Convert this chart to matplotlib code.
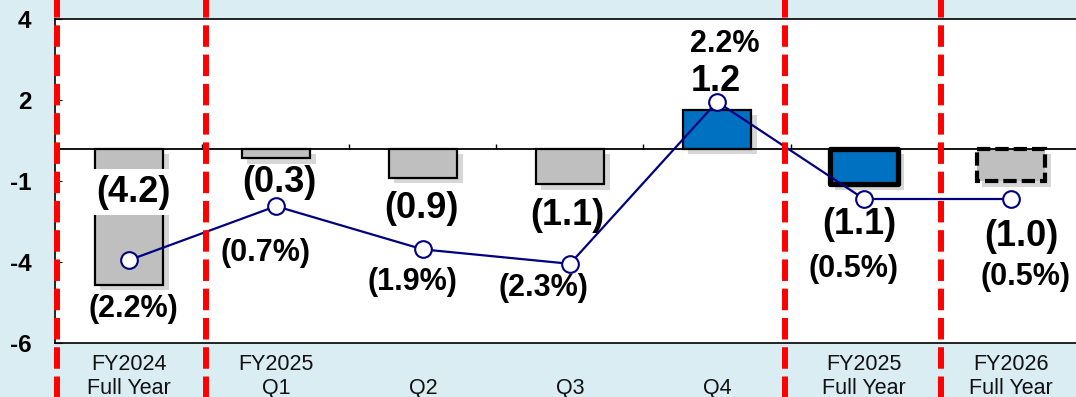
import matplotlib
matplotlib.use('Agg')
import matplotlib.pyplot as plt
import matplotlib.patheffects as pe

plt.rcParams['font.family'] = ['Liberation Sans', 'DejaVu Sans']

# data
categories = ['FY2024\nFull Year', 'FY2025\nQ1', '\nQ2', '\nQ3', '\nQ4',
              'FY2025\nFull Year', 'FY2026\nFull Year']
bar_values = [-4.2, -0.3, -0.9, -1.1, 1.2, -1.1, -1.0]
bar_labels = ['(4.2)', '(0.3)', '(0.9)', '(1.1)', '1.2', '(1.1)', '(1.0)']
pct_values = [-2.2, -0.7, -1.9, -2.3, 2.2, -0.5, -0.5]
pct_labels = ['(2.2%)', '(0.7%)', '(1.9%)', '(2.3%)', '2.2%', '(0.5%)', '(0.5%)']
ytick_pos = [4, 1.5, -1, -3.5, -6]
ytick_txt = ['4', '2', '-1', '-4', '-6']

# label placement (bar axis units)
bar_lab_dx = [0.03, 0.02, -0.01, -0.02, -0.01, -0.03, 0.07]
bar_lab_y = [-1.35, -1.06, -1.86, -2.05, 2.08, -2.35, -2.70]
pct_lab_dx = [0.03, -0.07, -0.07, -0.18, 0.05, -0.07, 0.10]
pct_lab_y = [-4.95, -3.21, -4.12, -4.30, 3.23, -3.72, -3.96]

sep_x = [-0.49, 0.524, 4.463, 5.524]

bg = '#DAEDF3'
grey = '#BFBFBF'
blue = '#0070C0'
navy = '#000080'

fig = plt.figure(figsize=(10.76, 3.97), dpi=100, facecolor=bg)
ax = fig.add_axes([55 / 1076, 1 - 343 / 397, 1 - 55 / 1076, 324 / 397])
ax.set_facecolor('white')

x = list(range(len(categories)))
colors = [grey, grey, grey, grey, blue, blue, grey]
shadow = [pe.SimplePatchShadow(offset=(4, -4), shadow_rgbFace='0.6', alpha=0.4), pe.Normal()]
bars = ax.bar(x, bar_values, width=0.465, color=colors, edgecolor='black',
              linewidth=1.6, zorder=3)
for b in bars:
    b.set_path_effects(shadow)
bars[5].set_linewidth(3.8)
bars[5].set_joinstyle('round')
bars[6].set_linewidth(3.0)
bars[6].set_linestyle((0, (3.2, 1.2)))

ax.axhline(0, color='black', lw=1.3, zorder=4)
bounds = [i + 0.5 for i in x[:-1]]
ax.vlines(bounds, 0, 0.15, color='black', lw=1.0, zorder=4)

ax.set_xlim(-0.503, 6.442)
ax.set_ylim(-6, 4)
ax.set_yticks(ytick_pos)
ax.set_yticklabels(ytick_txt, fontsize=17.5, fontweight='bold')
ax.tick_params(axis='y', direction='in', length=5, pad=17)
ax.set_xticks(x)
ax.set_xticklabels(categories, fontsize=15.5, color='#111111', linespacing=1.15)
ax.tick_params(axis='x', length=0, pad=8)
ax.spines['right'].set_visible(False)
for s in ['top', 'bottom', 'left']:
    ax.spines[s].set_linewidth(1.2)

ax2 = ax.twinx()
ax2.set_ylim(-4.5, 4.5)
ax2.axis('off')
ax2.plot(x, pct_values, color=navy, lw=1.6, marker='o', markersize=12,
         markerfacecolor='white', markeredgecolor=navy, markeredgewidth=1.5, zorder=5)

for i in x:
    kw = {}
    if i == 0:
        kw['bbox'] = dict(boxstyle='square,pad=0.15', facecolor='white', edgecolor='none')
    ax2.text(i + bar_lab_dx[i], bar_lab_y[i], bar_labels[i], transform=ax.transData,
             ha='center', va='center', fontsize=26, fontweight='bold', zorder=6, **kw)
    ax2.text(i + pct_lab_dx[i], pct_lab_y[i], pct_labels[i], transform=ax.transData,
             ha='center', va='center', fontsize=22, fontweight='bold', zorder=6)

for sx in sep_x:
    ax2.axvline(sx, ymin=-0.17, ymax=1.07, color='#FF0000', lw=4.3,
                linestyle=(0, (3.6, 1.3)), clip_on=False, zorder=10)

fig.savefig('out.png', dpi=100, facecolor=bg)
